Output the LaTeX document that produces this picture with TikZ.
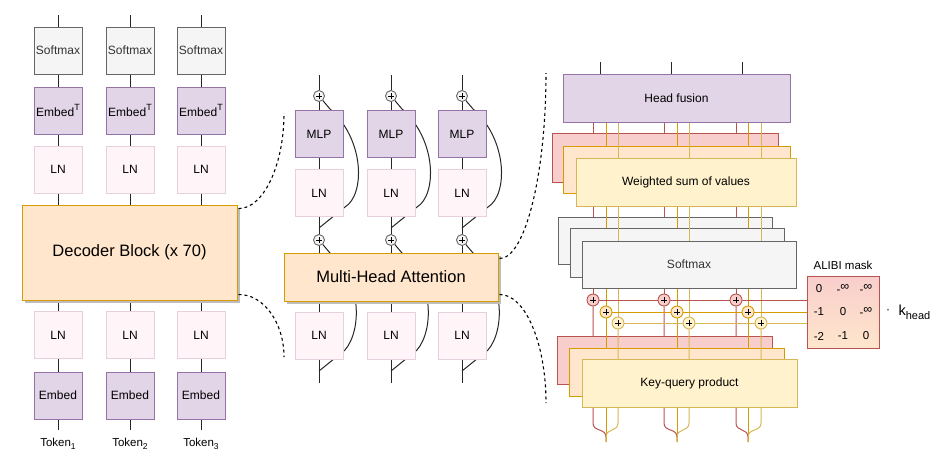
\documentclass[tikz,border=0pt]{standalone}
\usepackage{fontspec}
\setmainfont{Liberation Sans}
\usetikzlibrary{calc}
\pgfdeclarelayer{L0}\pgfdeclarelayer{L1}\pgfdeclarelayer{L2}\pgfdeclarelayer{L3}\pgfdeclarelayer{L4}
\pgfsetlayers{L0,L1,L2,L3,L4,main}
\newcommand\mysub[2][9]{\raisebox{-0.3em}{\fontsize{#1}{#1}\selectfont #2}}
\newcommand\mysup[2][9]{\raisebox{0.45em}{\fontsize{#1}{#1}\selectfont #2}}
\newcommand\myinf{-\raisebox{0.32em}{\fontsize{12.5}{12.5}\selectfont ∞}}
\definecolor{gfill}{HTML}{F5F5F5}
\definecolor{gline}{HTML}{666666}
\definecolor{txtgray}{HTML}{333333}
\definecolor{pfill}{HTML}{E1D5E7}
\definecolor{pline}{HTML}{9673A6}
\definecolor{lnfill}{HTML}{FFF4F8}
\definecolor{lnline}{HTML}{E6D0DE}
\definecolor{ofill}{HTML}{FFE6CC}
\definecolor{oline}{HTML}{D79B00}
\definecolor{rfill}{HTML}{F8CECC}
\definecolor{rline}{HTML}{B85450}
\definecolor{yfill}{HTML}{FFF2CC}
\definecolor{yline}{HTML}{D6B656}
\definecolor{shadowc}{HTML}{BDBDBD}
\tikzset{
 fs/.style={font=\fontsize{#1}{#1}\selectfont},
 box/.style={draw, rectangle, inner sep=0pt, line width=1pt, align=center, fs=12},
 smallbox/.style={box, minimum width=48pt, minimum height=47pt},
 smbox/.style={smallbox, fill=gfill, draw=gline, text=txtgray},
 embox/.style={smallbox, fill=pfill, draw=pline},
 lnbox/.style={smallbox, fill=lnfill, draw=lnline},
 bigbox/.style={box, fill=ofill, draw=oline, fs=16.5},
 conn/.style={draw=black!85, line width=1pt},
 dsh/.style={draw=black, line width=1.1pt, dash pattern=on 3pt off 3pt},
 pc/.style args={#1/#2/#3}{circle, draw=#1, fill=#2, line width=0.9pt, minimum size=#3, inner sep=0pt,
   path picture={\draw[black, line width=0.9pt]
     ([xshift=-3.2pt]path picture bounding box.center) -- ([xshift=3.2pt]path picture bounding box.center)
     ([yshift=-3.2pt]path picture bounding box.center) -- ([yshift=3.2pt]path picture bounding box.center);}},
 hbox/.style={box, line width=1pt},
 mtx/.style={fs=11.5},
}
\begin{document}
\begin{tikzpicture}[x=1pt,y=-1pt]
\useasboundingbox (0,0) rectangle (948,461);

% ---------------- left column ----------------
\fill[shadowc] (25,208) rectangle (240,303);
\node[bigbox, minimum width=215pt, minimum height=95pt] (dec) at (129.5,252.5) {Decoder Block (x 70)};
\foreach \i/\x in {1/58,2/130,3/201}{
  \coordinate (top\i) at (\x,15);
  \coordinate (bot\i) at (\x,430);
  \node[smbox] (sm\i) at (\x,50.5) {Softmax};
  \node[embox] (et\i) at (\x,110.5) {Embed\mysup{T}};
  \node[lnbox] (lnt\i) at (\x,169.5) {LN};
  \node[lnbox] (lnb\i) at (\x,335) {LN};
  \node[embox] (em\i) at (\x,395.5) {Embed};
  \node[fs=11.5, anchor=base] (tok\i) at (\x,446) {Token\mysub[8.5]{\i}};
}

% ---------------- middle column ----------------
\fill[shadowc] (287,256) rectangle (501,304);
\node[bigbox, minimum width=214pt, minimum height=48pt] (mha) at (391,277) {Multi-Head Attention};
\foreach \i/\x in {1/319,2/391,3/462}{
  \coordinate (mt\i) at (\x,75);
  \coordinate (mb\i) at (\x,383);
  \coordinate (ra\i) at (\x,228);
  \coordinate (rb\i) at (\x,371);
  \node[pc=gline/gfill/11pt] (pa\i) at (\x,96) {};
  \node[embox] (mlp\i) at (\x,134) {MLP};
  \node[lnbox] (lnm\i) at (\x,193) {LN};
  \node[pc=gline/gfill/11pt] (pb\i) at (\x,240) {};
  \node[lnbox] (lnl\i) at (\x,335.5) {LN};
}

% ---------------- right panel ----------------
\begin{pgfonlayer}{L1}
  \node[hbox, fill=rfill, draw=rline, minimum width=226pt, minimum height=49pt] (wsr) at (665,157.5) {};
  \node[hbox, fill=gfill, draw=gline, minimum width=214pt, minimum height=47pt] (sma) at (665,240.5) {};
  \node[hbox, fill=rfill, draw=rline, minimum width=215pt, minimum height=48pt] (kqr) at (664.5,360) {};
\end{pgfonlayer}
\begin{pgfonlayer}{L3}
  \node[hbox, fill=ofill, draw=oline, minimum width=227pt, minimum height=47pt] (wso) at (676.5,169.5) {};
  \node[hbox, fill=gfill, draw=gline, minimum width=214pt, minimum height=49pt] (smb) at (677,252.5) {};
  \node[hbox, fill=ofill, draw=oline, minimum width=215pt, minimum height=48pt] (kqo) at (676.5,372) {};
\end{pgfonlayer}
\node[hbox, fill=yfill, draw=yline, minimum width=220pt, minimum height=48pt] (wsy) at (686,182) {Weighted sum of values};
\node[hbox, fill=gfill, draw=gline, text=txtgray, minimum width=214pt, minimum height=47pt] (smc) at (689,264.5) {Softmax};
\node[hbox, fill=yfill, draw=yline, minimum width=215pt, minimum height=48pt] (kqy) at (689.5,383) {Key-query product};
\node[hbox, fill=pfill, draw=pline, minimum width=227pt, minimum height=48pt] (hf) at (676.5,98) {Head fusion};

\foreach \k/\x in {1/600,2/671,3/742}{
  \coordinate (hft\k) at (\x,62);
  \draw[conn] (hft\k) -- (hft\k |- hf.north);
}

\foreach \j/\xr/\xo/\xy in {1/593/606/618,2/664/677/689,3/736/748/761}{
  \node[pc=rline/rfill/12pt] (rc\j) at (\xr,300) {};
  \node[pc=oline/ofill/12pt] (oc\j) at (\xo,312) {};
  \node[pc=yline/yfill/12pt] (yc\j) at (\xy,323) {};
  \coordinate (ob\j) at (\xo,442);
}

% ALIBI
\node[draw=rline, line width=1pt, top color=rfill, bottom color=ofill, minimum width=72pt, minimum height=72pt, inner sep=0pt] (alibi) at (843,312) {};
\node[fs=11.5] (alibil) at (843,265) {ALIBI mask};
\node[mtx] (a11) at (819,289) {0};
\node[mtx] (a12) at (843,289) {\myinf};
\node[mtx] (a13) at (866,289) {\myinf};
\node[mtx] (a21) at (819,312) {-1};
\node[mtx] (a22) at (843,312) {0};
\node[mtx] (a23) at (866,312) {\myinf};
\node[mtx] (a31) at (819,336) {-2};
\node[mtx] (a32) at (843,336) {-1};
\node[mtx] (a33) at (866,336) {0};
\node[fs=12] (dotm) at (888,312) {·};
\node[fs=14.5, anchor=west] (kh) at (895,312) {k\mysub[11]{head}};

% ---------------- connectors ----------------
\begin{pgfonlayer}{L0}
\foreach \i in {1,2,3}{
  \draw[conn] (top\i) -- (sm\i);
  \draw[conn] (sm\i) -- (et\i);
  \draw[conn] (et\i) -- (lnt\i);
  \draw[conn] (lnt\i) -- (lnt\i |- dec.north);
  \draw[conn] (lnb\i |- dec.south) -- (lnb\i);
  \draw[conn] (lnb\i) -- (em\i);
  \draw[conn] (em\i) -- (bot\i);
}
\foreach \i/\x in {1/319,2/391,3/462}{
  \pgfmathsetmacro\xa{\x+26}
  \pgfmathsetmacro\xc{\x+46}
  \pgfmathsetmacro\xd{\x+43}
  \pgfmathsetmacro\xe{\x+11}
  \draw[conn] (mt\i) -- (pa\i);
  \draw[conn] (pa\i) -- (mlp\i);
  \draw[conn] (mlp\i) -- (lnm\i);
  \draw[conn] (lnm\i) -- (pb\i);
  \draw[conn] (pb\i) -- (pb\i |- mha.north);
  \draw[conn] (lnl\i |- mha.south) -- (lnl\i);
  \draw[conn] (lnl\i) -- (mb\i);
  \draw[conn] (ra\i) -- (\xa,207) .. controls (\xc,195) and (\xc,140) .. (\xe,109) -- (pa\i);
  \draw[conn] (rb\i) -- (\xa,350) .. controls (\xd,330) and (\xd,280) .. (\xe,253) -- (pb\i);
}
\foreach \j/\xr/\xo in {1/593/606,2/664/677,3/736/748}{
  \draw[rline, line width=1pt] (hf.south -| rc\j) -- (rc\j);
  \draw[rline, line width=1pt] (rc\j) -- (\xr,423) .. controls (\xr,432) and (\xo,428) .. (\xo,437) -- (ob\j);
}
\end{pgfonlayer}
\begin{pgfonlayer}{L2}
\foreach \j in {1,2,3}{
  \draw[oline, line width=1pt] (hf.south -| oc\j) -- (oc\j);
  \draw[oline, line width=1pt] (oc\j) -- (ob\j);
}
\end{pgfonlayer}
\begin{pgfonlayer}{L4}
\foreach \j/\xy/\xo in {1/618/606,2/689/677,3/761/748}{
  \draw[yline, line width=1pt] (hf.south -| yc\j) -- (yc\j);
  \draw[yline, line width=1pt] (yc\j) -- (\xy,423) .. controls (\xy,432) and (\xo,428) .. (\xo,437) -- (ob\j);
}
\draw[rline, line width=1pt] (rc1) -- (rc1 -| alibi.west);
\draw[oline, line width=1pt] (oc1) -- (oc1 -| alibi.west);
\draw[yline, line width=1pt] (yc1) -- (yc1 -| alibi.west);
\end{pgfonlayer}

% dashed zoom curves
\coordinate (d1) at (284,113);
\coordinate (d2) at (284,357);
\coordinate (d3) at (546,73);
\coordinate (d4) at (546,403);
\draw[dsh] ($(dec.north east)+(1,4)$) .. controls (263,209) and (284,166) .. (d1);
\draw[dsh] ($(dec.south east)+(1,-6)$) .. controls (263,294) and (284,322) .. (d2);
\draw[dsh] ($(mha.north east)+(1,6)$) .. controls (525,259) and (546,175) .. (d3);
\draw[dsh] ($(mha.south east)+(1,-7)$) .. controls (525,294) and (546,343) .. (d4);
\end{tikzpicture}
\end{document}
